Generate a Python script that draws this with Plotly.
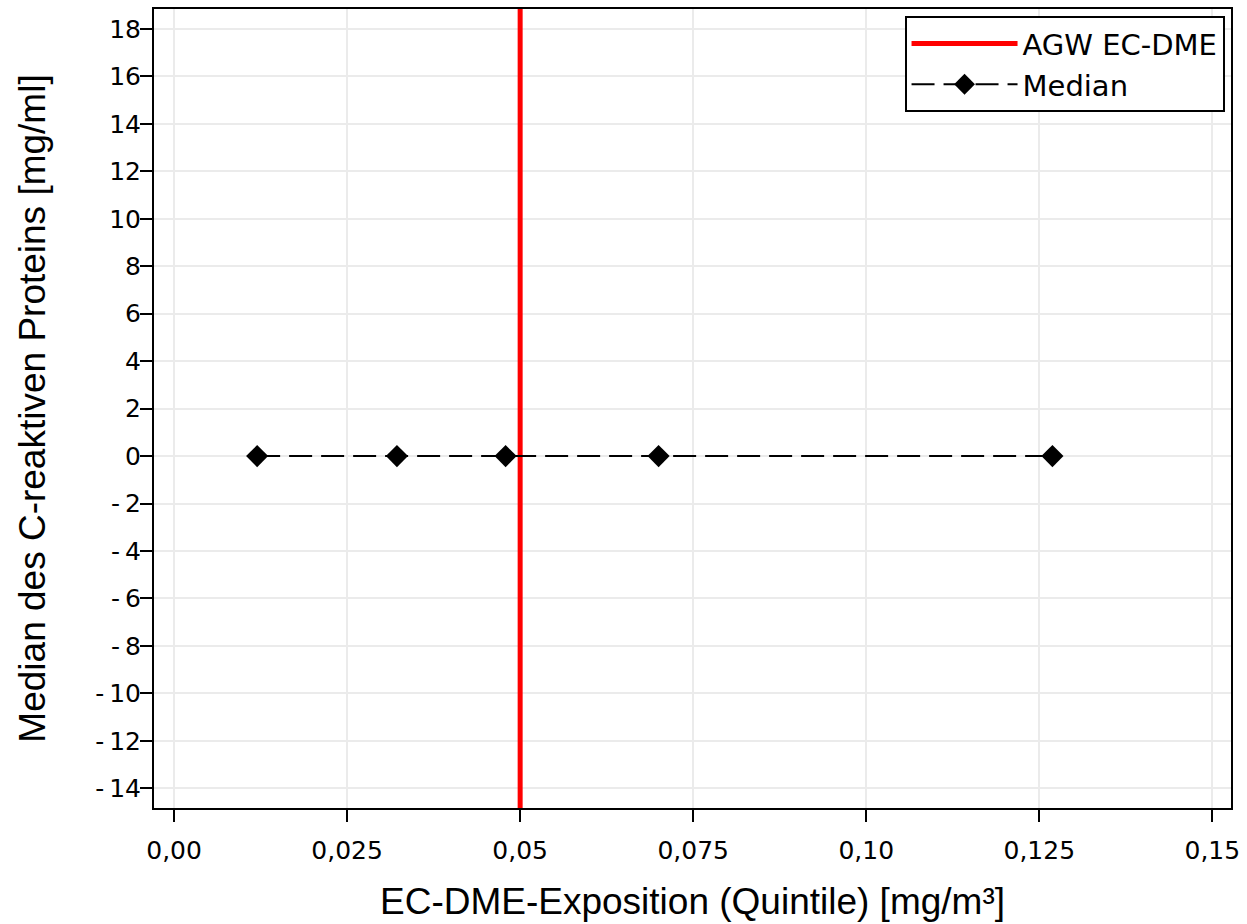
import plotly.graph_objects as go

# Quintile medians of EC-DME exposure and the median CRP per quintile
exposure_quintiles = [0.012, 0.0322, 0.0479, 0.0700, 0.1269]
crp_median = [0.0, 0.0, 0.0, 0.0, 0.0]

# Occupational exposure limit (AGW) for EC-DME
agw_limit = 0.05

x_tickvals = [0.0, 0.025, 0.05, 0.075, 0.10, 0.125, 0.15]
x_ticktext = ["0,00", "0,025", "0,05", "0,075", "0,10", "0,125", "0,15"]
y_tickvals = list(range(-14, 19, 2))

x_range = [-0.0029, 0.1527]
y_range = [-14.83, 18.84]


def y_label(v):
    return ("-\u2009" + str(-v)) if v < 0 else str(v)


y_ticktext = [y_label(v) for v in y_tickvals]

tick_font = dict(family="DejaVu Sans", size=25, color="black")
title_font = dict(family="Liberation Sans", size=37, color="black")

fig = go.Figure()

fig.add_trace(go.Scatter(
    x=[agw_limit, agw_limit], y=y_range,
    mode="lines", name="AGW EC-DME",
    line=dict(color="#ff0000", width=5),
))

fig.add_trace(go.Scatter(
    x=exposure_quintiles, y=crp_median,
    mode="lines+markers", name="Median",
    line=dict(color="black", width=2, dash="23px,9px"),
    marker=dict(symbol="diamond", size=17, color="black"),
))

axis_common = dict(
    showline=True, linecolor="black", linewidth=2, mirror=True,
    ticks="outside", ticklen=12, tickwidth=2, tickcolor="black",
    showgrid=True, gridcolor="#ebebeb", gridwidth=2,
    zeroline=False, tickfont=tick_font,
)

fig.update_xaxes(
    range=x_range, tickvals=x_tickvals, ticktext=x_ticktext,
    ticklabelstandoff=7,
    title=dict(text="EC-DME-Exposition (Quintile) [mg/m³]", font=title_font, standoff=24),
    **axis_common,
)
fig.update_yaxes(
    range=y_range, tickvals=y_tickvals, ticktext=y_ticktext,
    ticklabelstandoff=-6,
    title=dict(text="Median des C-reaktiven Proteins [mg/ml]", font=title_font, standoff=38),
    **axis_common,
)

fig.update_layout(
    width=1247, height=924,
    margin=dict(l=154, r=12, t=7, b=116),
    paper_bgcolor="white", plot_bgcolor="white",
    showlegend=True,
    legend=dict(
        x=0.994, y=0.991, xanchor="right", yanchor="top",
        bgcolor="white", bordercolor="black", borderwidth=2,
        font=dict(family="DejaVu Sans", size=29, color="black"),
        itemwidth=106, tracegroupgap=0,
    ),
)

fig.write_html("out.html")
